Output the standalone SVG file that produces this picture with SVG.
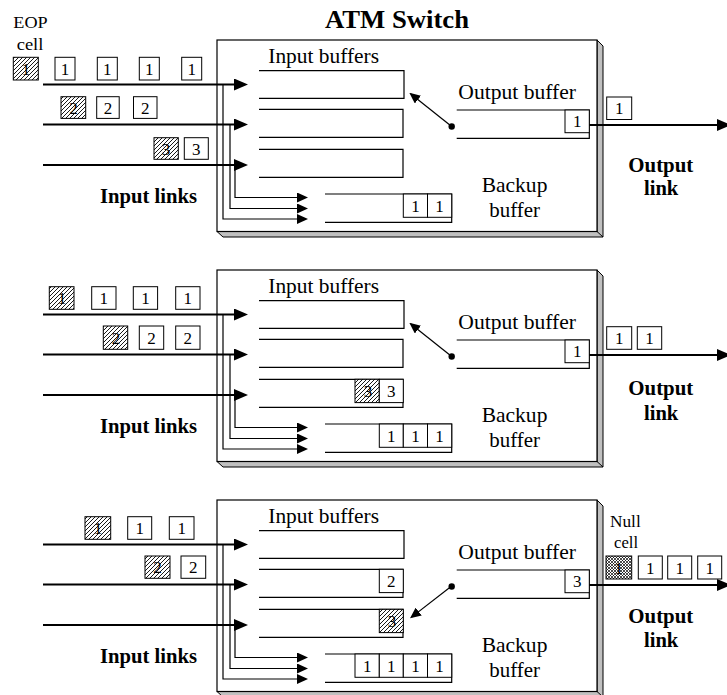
<svg xmlns="http://www.w3.org/2000/svg" width="727" height="695" viewBox="0 0 727 695">
<style>
.t{font-family:"Liberation Serif","Times New Roman",serif;fill:#000}
.lbl{font-size:21px}
.b{font-weight:bold}
.d{font-size:17px;text-anchor:middle}
.sm{font-size:16px}
.cell{fill:#fff;stroke:#000;stroke-width:1}
.hat{fill:url(#hatch);stroke:#000;stroke-width:1}
.xh{fill:url(#xhatch);stroke:#000;stroke-width:1}
.buf{fill:none;stroke:#000;stroke-width:1.2}
.link{stroke:#000;stroke-width:2.2;fill:none;marker-end:url(#bigArrow)}
.thin{stroke:#000;stroke-width:1.2;fill:none}
.thinA{stroke:#000;stroke-width:1.2;fill:none;marker-end:url(#smallArrow)}
.face{fill:#fff;stroke:#000;stroke-width:1.2}
.ext{fill:#c0c0c0;stroke:#000;stroke-width:1}
</style>
<defs>
<pattern id="hatch" patternUnits="userSpaceOnUse" width="4" height="4">
<rect width="4" height="4" fill="#fff"/>
<path d="M-1,1 L1,-1 M0,4 L4,0 M3,5 L5,3" stroke="#000" stroke-width="0.9"/>
</pattern>
<pattern id="xhatch" patternUnits="userSpaceOnUse" width="3" height="3">
<rect width="3" height="3" fill="#fff"/>
<path d="M0,0 L3,3 M0,3 L3,0" stroke="#000" stroke-width="0.7"/>
</pattern>
<marker id="bigArrow" markerUnits="userSpaceOnUse" markerWidth="14" markerHeight="12" refX="8" refY="6" orient="auto">
<path d="M0,0 L14,6 L0,12 z" fill="#000"/>
</marker>
<marker id="smallArrow" markerUnits="userSpaceOnUse" markerWidth="11" markerHeight="10" refX="9" refY="5" orient="auto">
<path d="M0,0 L11,5 L0,10 z" fill="#000"/>
</marker>
<g id="switchBox">
<polygon class="ext" points="597,40 603,46 603,237 223,237 217,231.5 597,231.5"/>
<line x1="597" y1="231.5" x2="603" y2="237" stroke="#000" stroke-width="1"/>
<rect class="face" x="217" y="40" width="380" height="191.5"/>
</g>
<g id="inner">
<path class="buf" d="M259,70.7 H404 V98.3 H259"/>
<path class="buf" d="M259,109.3 H403 V137.3 H259"/>
<path class="buf" d="M259,149.3 H403 V177.3 H259"/>
<path class="buf" d="M325,194 H451.7 V222.3 H325"/>
<path class="buf" d="M456.7,110 H589.3 V138.3 H456.7"/>
<text class="t lbl" x="268.3" y="63.3" textLength="110.7" lengthAdjust="spacingAndGlyphs">Input buffers</text>
<text class="t lbl" x="458.3" y="99.3" textLength="117.7" lengthAdjust="spacingAndGlyphs">Output buffer</text>
<text class="t lbl" x="481.7" y="191.7" textLength="65.7" lengthAdjust="spacingAndGlyphs">Backup</text>
<text class="t lbl" x="489.3" y="216.7" textLength="50.7" lengthAdjust="spacingAndGlyphs">buffer</text>
<text class="t lbl b" x="100" y="203.3" textLength="97" lengthAdjust="spacingAndGlyphs">Input links</text>
</g>
<g id="links">
<line class="link" x1="43" y1="84.5" x2="242" y2="84.5"/>
<line class="link" x1="43" y1="124.5" x2="242" y2="124.5"/>
<line class="link" x1="43" y1="165" x2="242" y2="165"/>
<path class="thinA" d="M223,84.5 V219 H306"/>
<path class="thinA" d="M230,124.5 V208.5 H306"/>
<path class="thinA" d="M235,165 V197.5 H306"/>
<line class="link" x1="589.3" y1="125" x2="725" y2="125"/>
<circle cx="451.7" cy="126.5" r="3.2" fill="#000"/>
</g>
</defs>

<text class="t b" x="397" y="28.3" font-size="26" text-anchor="middle" textLength="144" lengthAdjust="spacingAndGlyphs">ATM Switch</text>

<!-- Panel 1 -->
<g id="panel1">
<use href="#switchBox"/>
<use href="#inner"/>
<text class="t lbl b" x="628.3" y="171.7" textLength="65" lengthAdjust="spacingAndGlyphs">Output</text>
<text class="t lbl b" x="644" y="195" textLength="34.3" lengthAdjust="spacingAndGlyphs">link</text>
<text class="t sm" x="13.3" y="28.3" textLength="34.3" lengthAdjust="spacingAndGlyphs">EOP</text>
<text class="t sm" x="16.7" y="50" textLength="26.7" lengthAdjust="spacingAndGlyphs">cell</text>
<g id="p1-in-cells">
<rect class="hat" x="13.3" y="57.3" width="25" height="22.7"/><text class="t d" x="26" y="74.8">1</text>
<rect class="cell" x="55" y="57.3" width="20" height="22.7"/><text class="t d" x="65" y="74.8">1</text>
<rect class="cell" x="97.3" y="57.3" width="20" height="22.7"/><text class="t d" x="107.3" y="74.8">1</text>
<rect class="cell" x="139.3" y="57.3" width="20" height="22.7"/><text class="t d" x="149.3" y="74.8">1</text>
<rect class="cell" x="181.7" y="57.3" width="20" height="22.7"/><text class="t d" x="191.7" y="74.8">1</text>
<rect class="hat" x="61" y="96.7" width="24.7" height="21.7"/><text class="t d" x="73.5" y="113.6">2</text>
<rect class="cell" x="96.7" y="96.7" width="22.5" height="21.7"/><text class="t d" x="108" y="113.6">2</text>
<rect class="cell" x="133.5" y="96.7" width="23.5" height="21.7"/><text class="t d" x="145.2" y="113.6">2</text>
<rect class="hat" x="154" y="137.7" width="24.3" height="21.6"/><text class="t d" x="166" y="154.5">3</text>
<rect class="cell" x="184.3" y="137.7" width="24" height="21.6"/><text class="t d" x="196.3" y="154.5">3</text>
</g>
<g id="p1-buf-cells">
<rect class="cell" x="403.3" y="194" width="24.2" height="23.3"/><text class="t d" x="415.4" y="211.6">1</text>
<rect class="cell" x="427.5" y="194" width="24.2" height="23.3"/><text class="t d" x="439.6" y="211.6">1</text>
<rect class="cell" x="565" y="110" width="24.3" height="22.7"/><text class="t d" x="577.2" y="127.3">1</text>
</g>
<g id="p1-connectors">
<use href="#links"/>
<line class="thinA" x1="451.7" y1="126.5" x2="410.9" y2="94"/>
</g>
<g id="p1-out-cells">
<rect class="cell" x="606.7" y="97" width="25" height="22.5"/><text class="t d" x="619.2" y="114.1">1</text>
</g>
</g>

<!-- Panel 2 -->
<g id="panel2" transform="translate(0,230)">
<use href="#switchBox"/>
<use href="#inner"/>
<text class="t lbl b" x="628.3" y="165" textLength="65" lengthAdjust="spacingAndGlyphs">Output</text>
<text class="t lbl b" x="644" y="190" textLength="34.3" lengthAdjust="spacingAndGlyphs">link</text>
<g id="p2-in-cells">
<rect class="hat" x="49.3" y="56.7" width="24.7" height="22.6"/><text class="t d" x="62" y="74.1">1</text>
<rect class="cell" x="91.7" y="56.7" width="24.3" height="22.6"/><text class="t d" x="103.8" y="74.1">1</text>
<rect class="cell" x="133.3" y="56.7" width="24.3" height="22.6"/><text class="t d" x="145.5" y="74.1">1</text>
<rect class="cell" x="175.7" y="56.7" width="24.3" height="22.6"/><text class="t d" x="187.8" y="74.1">1</text>
<rect class="hat" x="103.3" y="96" width="24.4" height="23.3"/><text class="t d" x="116" y="113.8">2</text>
<rect class="cell" x="139.3" y="96" width="24.4" height="23.3"/><text class="t d" x="151.5" y="113.8">2</text>
<rect class="cell" x="175.7" y="96" width="24.3" height="23.3"/><text class="t d" x="187.8" y="113.8">2</text>
</g>
<g id="p2-buf-cells">
<rect class="hat" x="355" y="149.3" width="24.3" height="23.3"/><text class="t d" x="368" y="166.9">3</text>
<rect class="cell" x="379.3" y="149.3" width="24" height="23.3"/><text class="t d" x="391.3" y="166.9">3</text>
<rect class="cell" x="379.3" y="194" width="24" height="23.3"/><text class="t d" x="391.3" y="211.6">1</text>
<rect class="cell" x="403.3" y="194" width="24.2" height="23.3"/><text class="t d" x="415.4" y="211.6">1</text>
<rect class="cell" x="427.5" y="194" width="24.2" height="23.3"/><text class="t d" x="439.6" y="211.6">1</text>
<rect class="cell" x="565" y="110" width="24.3" height="22.7"/><text class="t d" x="577.2" y="127.3">1</text>
</g>
<g id="p2-connectors">
<use href="#links"/>
<line class="thinA" x1="451.7" y1="126.5" x2="410.9" y2="94"/>
</g>
<g id="p2-out-cells">
<rect class="cell" x="606.7" y="96.7" width="25" height="22.6"/><text class="t d" x="619.2" y="114.1">1</text>
<rect class="cell" x="637.3" y="96.7" width="24.4" height="22.6"/><text class="t d" x="649.5" y="114.1">1</text>
</g>
</g>

<!-- Panel 3 -->
<g id="panel3" transform="translate(0,460)">
<use href="#switchBox"/>
<use href="#inner"/>
<text class="t lbl b" x="628.3" y="163.3" textLength="65" lengthAdjust="spacingAndGlyphs">Output</text>
<text class="t lbl b" x="644" y="186.7" textLength="34.3" lengthAdjust="spacingAndGlyphs">link</text>
<text class="t sm" x="610" y="66.7" textLength="30.7" lengthAdjust="spacingAndGlyphs">Null</text>
<text class="t sm" x="614" y="88.3" textLength="24" lengthAdjust="spacingAndGlyphs">cell</text>
<g id="p3-in-cells">
<rect class="hat" x="85" y="56.7" width="25.7" height="22.6"/><text class="t d" x="98" y="74.1">1</text>
<rect class="cell" x="127.7" y="56.7" width="24" height="22.6"/><text class="t d" x="139.7" y="74.1">1</text>
<rect class="cell" x="169.3" y="56.7" width="24.7" height="22.6"/><text class="t d" x="181.7" y="74.1">1</text>
<rect class="hat" x="145" y="96" width="25" height="22.3"/><text class="t d" x="157.5" y="113.3">2</text>
<rect class="cell" x="181" y="96" width="24.7" height="22.3"/><text class="t d" x="193.3" y="113.3">2</text>
</g>
<g id="p3-buf-cells">
<rect class="cell" x="379.3" y="109.3" width="24" height="23.3"/><text class="t d" x="391.3" y="126.9">2</text>
<rect class="hat" x="379.3" y="149.3" width="24" height="23.3"/><text class="t d" x="392" y="166.9">3</text>
<rect class="cell" x="355" y="194" width="24.3" height="23.3"/><text class="t d" x="367.2" y="211.6">1</text>
<rect class="cell" x="379.3" y="194" width="24" height="23.3"/><text class="t d" x="391.3" y="211.6">1</text>
<rect class="cell" x="403.3" y="194" width="24.2" height="23.3"/><text class="t d" x="415.4" y="211.6">1</text>
<rect class="cell" x="427.5" y="194" width="24.2" height="23.3"/><text class="t d" x="439.6" y="211.6">1</text>
<rect class="cell" x="565" y="110" width="24.3" height="22.7"/><text class="t d" x="577.2" y="127.3">3</text>
</g>
<g id="p3-connectors">
<use href="#links"/>
<line class="thinA" x1="451.7" y1="126" x2="411.6" y2="157.1"/>
</g>
<g id="p3-out-cells">
<rect class="xh" x="606" y="96" width="25.7" height="23"/><text class="t d" x="618.8" y="113.6">1</text>
<rect class="cell" x="638.3" y="96" width="24" height="23"/><text class="t d" x="650.3" y="113.6">1</text>
<rect class="cell" x="667.7" y="96" width="24" height="23"/><text class="t d" x="679.7" y="113.6">1</text>
<rect class="cell" x="697.7" y="96" width="24" height="23"/><text class="t d" x="709.7" y="113.6">1</text>
</g>
</g>
</svg>
